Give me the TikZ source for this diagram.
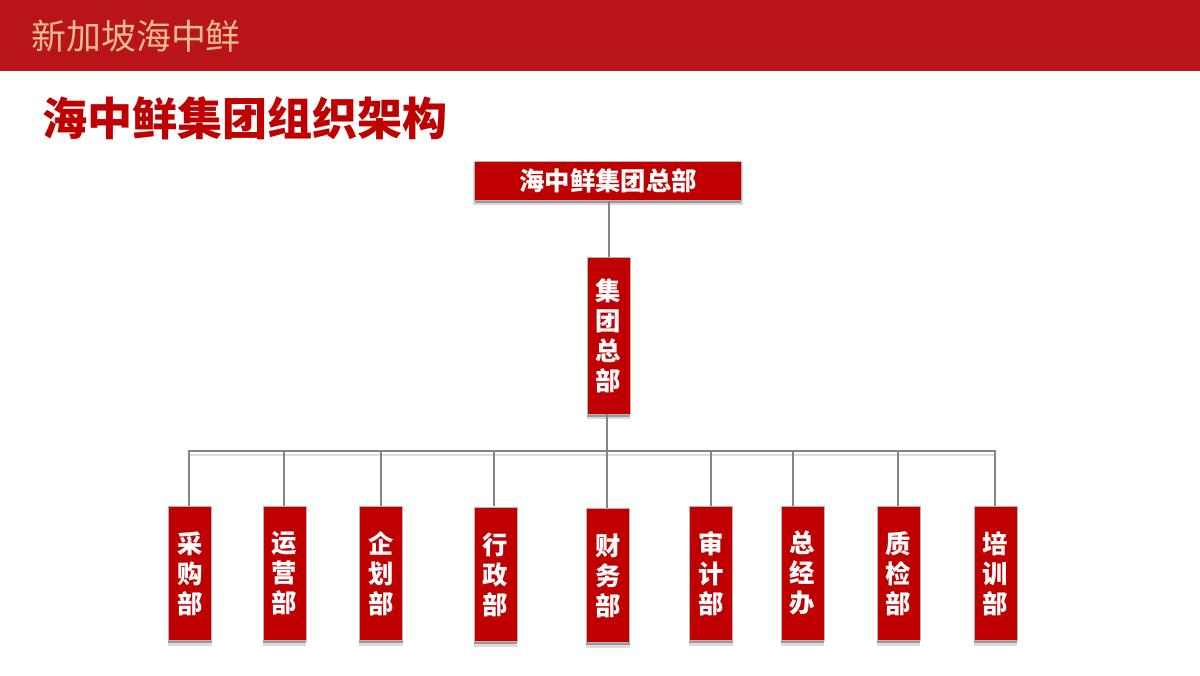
\documentclass[tikz,border=0pt]{standalone}
\usepackage{fontspec}
\setmainfont{Noto Sans CJK SC}
\usetikzlibrary{shadows}
\definecolor{barred}{HTML}{B8141A}
\definecolor{boxred}{HTML}{C00000}
\definecolor{headtan}{HTML}{E8BC8E}
\definecolor{linegray}{HTML}{858585}
\tikzset{
  x=0.75pt,y=-0.75pt,
  redbox/.style={draw=linegray!60,line width=0.4pt,fill=boxred,text=white,inner sep=0pt,
    font=\fontsize{19}{22.5}\selectfont\bfseries,align=center,
    drop shadow={shadow xshift=0pt,shadow yshift=-3.2pt,shadow scale=1.01,opacity=0.14,fill=black},
    drop shadow={shadow xshift=0pt,shadow yshift=-2pt,opacity=0.3,fill=black}},
  deptbox/.style={redbox,minimum width=32.5pt,minimum height=101pt},
  conn/.style={draw=linegray,line width=1.2pt},
  connshade/.style={draw=black!13,line width=2pt}
}
\begin{document}
\begin{tikzpicture}
\useasboundingbox (0,0) rectangle (1200,675);
\fill[white] (0,0) rectangle (1200,675);
\fill[barred] (0,0) rectangle (1200,71);
\node[anchor=west,inner sep=0pt,text=headtan,font=\fontsize{26.2}{30}\selectfont] (head) at (31,36) {新加坡海中鲜};
\node[anchor=west,inner sep=0pt,text=boxred,font=\fontsize{33.8}{38}\selectfont\bfseries] (title) at (42,118) {海中鲜集团组织架构};

\coordinate (busL) at (189,451);
\coordinate (busR) at (995,451);
\coordinate (busS1) at (189,455);
\coordinate (busS2) at (995,455);
\draw[connshade] (busS1) -- (busS2);

\node[redbox,minimum width=200pt,minimum height=29pt] (hq) at (608,181) {海中鲜集团总部};
\node[redbox,minimum width=32.5pt,minimum height=118pt] (mid) at (608.5,335.5) {集\\团\\总\\部};

\node[deptbox] (d1) at (190,573.4) {采\\购\\部};
\node[deptbox] (d2) at (284.5,573.4) {运\\营\\部};
\node[deptbox] (d3) at (381,573.4) {企\\划\\部};
\node[deptbox] (d4) at (495.5,574.4) {行\\政\\部};
\node[deptbox] (d5) at (608,575.4) {财\\务\\部};
\node[deptbox] (d6) at (711,573.4) {审\\计\\部};
\node[deptbox] (d7) at (802.5,573.4) {总\\经\\办};
\node[deptbox] (d8) at (898.5,573.4) {质\\检\\部};
\node[deptbox] (d9) at (995.5,573.4) {培\\训\\部};

\coordinate (hqOut) at (609,201);
\coordinate (midIn) at (609,257);
\coordinate (midOut) at (607,414);
\coordinate (d5In) at (607,508);
\coordinate (d2In) at (284,506);
\coordinate (d4In) at (494,506);
\coordinate (d7In) at (793,506);
\coordinate (d8In) at (898,506);
\draw[conn] (hqOut) -- (midIn);
\draw[conn] (midOut) -- (d5In);
\draw[conn] (d1.north -| busL) -- (busL) -- (busR) -- (d9.north -| busR);
\foreach \n in {d2In,d3.north,d4In,d6.north,d7In,d8In}{
  \draw[conn] (\n) -- (\n |- busL);
}
\end{tikzpicture}
\end{document}
